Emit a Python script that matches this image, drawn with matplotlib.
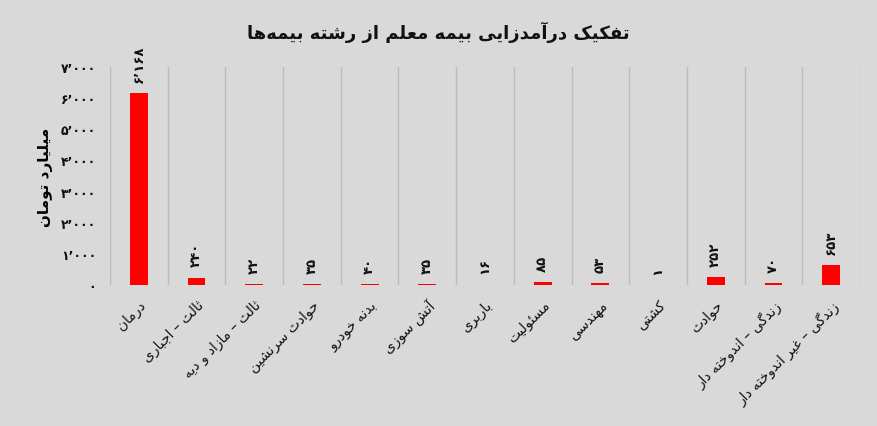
import numpy as np
import matplotlib
matplotlib.use('Agg')
import matplotlib.pyplot as plt

plt.rcParams['font.family'] = ['DejaVu Sans']

# داده‌ها
categories = ['درمان', 'ثالث – اجباری', 'ثالث – مازاد و دیه', 'حوادث سرنشین',
              'بدنه خودرو', 'آتش سوزی', 'باربری', 'مسئولیت', 'مهندسی',
              'کشتی', 'حوادث', 'زندگی – اندوخته دار', 'زندگی – غیر اندوخته دار']
values = [6168, 240, 22, 35, 40, 35, 16, 85, 53, 1, 252, 70, 653]
y_ticks = [0, 1000, 2000, 3000, 4000, 5000, 6000, 7000]
title = 'تفکیک درآمدزایی بیمه معلم از رشته بیمه‌ها'
y_label = 'میلیارد تومان'

# شکل‌دهی حروف فارسی (matplotlib خودش انجام نمی‌دهد)
# حرف: (تنها، پایانی، آغازی، میانی)
FORMS = {
    'ا': (0xFE8D, 0xFE8E, None, None), 'آ': (0xFE81, 0xFE82, None, None),
    'د': (0xFEA9, 0xFEAA, None, None), 'ذ': (0xFEAB, 0xFEAC, None, None),
    'ر': (0xFEAD, 0xFEAE, None, None), 'ز': (0xFEAF, 0xFEB0, None, None),
    'و': (0xFEED, 0xFEEE, None, None),
    'ب': (0xFE8F, 0xFE90, 0xFE91, 0xFE92), 'ت': (0xFE95, 0xFE96, 0xFE97, 0xFE98),
    'ث': (0xFE99, 0xFE9A, 0xFE9B, 0xFE9C), 'ج': (0xFE9D, 0xFE9E, 0xFE9F, 0xFEA0),
    'ح': (0xFEA1, 0xFEA2, 0xFEA3, 0xFEA4), 'خ': (0xFEA5, 0xFEA6, 0xFEA7, 0xFEA8),
    'س': (0xFEB1, 0xFEB2, 0xFEB3, 0xFEB4), 'ش': (0xFEB5, 0xFEB6, 0xFEB7, 0xFEB8),
    'ع': (0xFEC9, 0xFECA, 0xFECB, 0xFECC), 'غ': (0xFECD, 0xFECE, 0xFECF, 0xFED0),
    'ف': (0xFED1, 0xFED2, 0xFED3, 0xFED4), 'ل': (0xFEDD, 0xFEDE, 0xFEDF, 0xFEE0),
    'م': (0xFEE1, 0xFEE2, 0xFEE3, 0xFEE4), 'ن': (0xFEE5, 0xFEE6, 0xFEE7, 0xFEE8),
    'ه': (0xFEE9, 0xFEEA, 0xFEEB, 0xFEEC), 'ئ': (0xFE89, 0xFE8A, 0xFE8B, 0xFE8C),
    'ک': (0xFB8E, 0xFB8F, 0xFB90, 0xFB91), 'گ': (0xFB92, 0xFB93, 0xFB94, 0xFB95),
    'ی': (0xFBFC, 0xFBFD, 0xFBFE, 0xFBFF), 'پ': (0xFB56, 0xFB57, 0xFB58, 0xFB59),
}


def fa(text):
    out = []
    for i, ch in enumerate(text):
        if ch not in FORMS:
            if ch != '\u200c':
                out.append(ch)
            continue
        prev = text[i - 1] if i > 0 else ''
        nxt = text[i + 1] if i + 1 < len(text) else ''
        join_prev = prev in FORMS and FORMS[prev][2] is not None
        join_next = FORMS[ch][2] is not None and nxt in FORMS
        iso, fin, ini, med = FORMS[ch]
        if join_prev and join_next:
            code = med
        elif join_prev:
            code = fin
        elif join_next:
            code = ini
        else:
            code = iso
        out.append(chr(code))
    return ''.join(out[::-1])


def fa_num(n):
    s = f'{n:,}'
    return s.translate(str.maketrans('0123456789,', '۰۱۲۳۴۵۶۷۸۹٬'))


fig = plt.figure(figsize=(8.77, 4.27), dpi=100, facecolor='#d9d9d9')
ax = fig.add_axes([110 / 877, 141 / 427, 750 / 877, 218 / 427])
ax.set_facecolor('#d9d9d9')

x = np.arange(len(categories))
bars = ax.bar(x, values, width=0.31, color='#ff0000', zorder=3)

for xi, v in zip(x, values):
    ax.annotate(fa_num(v), (xi, v), xytext=(0, 8), textcoords='offset points',
                rotation=90, ha='center', va='bottom', fontsize=9.5,
                fontweight='bold', color='#111111')

ax.set_xlim(-0.5, len(categories) - 0.5)
ax.set_ylim(0, 7000)
ax.set_xticks(x)
ax.set_xticklabels([fa(c) for c in categories], rotation=45, ha='right',
                   va='top', rotation_mode='anchor', fontsize=10, color='#111111')
ax.set_xticks(np.arange(-0.5, len(categories)), minor=True)
ax.grid(True, which='minor', axis='x', color='#bcbcbc', linewidth=1, zorder=0)
ax.set_yticks(y_ticks)
ax.set_yticklabels([fa_num(t) for t in y_ticks], fontsize=9, fontweight='bold',
                   color='#111111')
ax.tick_params(axis='both', which='both', length=0)
ax.tick_params(axis='x', pad=9)
ax.tick_params(axis='y', pad=10)
for s in ax.spines.values():
    s.set_visible(False)

ax.set_ylabel(fa(y_label), fontsize=11, fontweight='bold', labelpad=6)
fig.text(0.5, 0.925, fa(title), ha='center', va='center', fontsize=13,
         fontweight='bold', color='#111111')

fig.savefig('out.png', dpi=100, facecolor=fig.get_facecolor())
